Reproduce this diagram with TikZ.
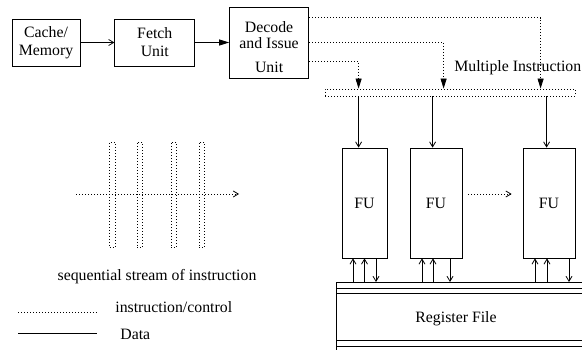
\documentclass[tikz,border=0pt]{standalone}
\usepackage{fontspec}
\setmainfont{Liberation Serif}
\usetikzlibrary{arrows.meta, positioning, calc}

\begin{document}
\begin{tikzpicture}[
      x=1pt, y=-1pt,
      node distance=34pt,
      line width=0.8pt,
      font=\fontsize{15.8pt}{18pt}\selectfont,
      blk/.style={draw, inner sep=0pt, align=center, minimum width=#1},
      ctl/.style={dash pattern=on 0.8pt off 2.2pt},
      opn/.style={-{Straight Barb[length=5pt,width=6pt]}},
      fil/.style={-{Triangle[length=10pt,width=6pt]}}
  ]
    \clip (0,0) rectangle (582,350);

    % front end
    \node[blk=68pt, minimum height=47pt] (cache) at (46,42.5) {Cache/\\Memory};
    \node[blk=80pt, minimum height=47pt, right=of cache] (fetch) {Fetch\\Unit};
    \node[blk=79pt, minimum height=71pt, right=of fetch] (dec)
      {\rule{0pt}{20pt}Decode\\[-2pt]and Issue\\[6pt]Unit};

    \draw[opn] (cache) -- (fetch);
    \draw[fil] (fetch) -- (dec);

    % instruction bus
    \node[draw, ctl, minimum width=250pt, minimum height=7pt, inner sep=0pt] (bus) at (450,92.5) {};
    \node[anchor=west, inner sep=0pt] (mi) at (454,68) {Multiple Instruction};

    \draw[ctl, fil] ($(dec.north east)+(0,11)$) -| ($(bus.north west)+(216,0)$);
    \draw[ctl, fil] (dec.east) -| ($(bus.north west)+(119,0)$);
    \draw[ctl, fil] ($(dec.south east)+(0,-17)$) -| ($(bus.north west)+(34,0)$);

    % functional units
    \node[blk=45pt, minimum height=110pt] (fu1) at (364.5,203) {FU};
    \node[blk=52pt, minimum height=110pt] (fu2) at (436,203) {FU};
    \node[blk=52pt, minimum height=110pt] (fu3) at (549,203) {FU};

    \foreach \f/\dx in {fu1/34, fu2/108, fu3/222} {
      \coordinate (b) at ($(bus.south west)+(\dx,0)$);
      \draw[opn] (b) -- (b |- \f.north);
    }
    \draw[ctl, opn] ($(fu2.east)+(6,-9)$) -- ($(fu3.west)+(-11,-9)$);

    % register file
    \node[draw, anchor=north west, minimum width=300pt, minimum height=72pt, inner sep=0pt] (reg) at (336,282) {};
    \node (rl) at ($(reg.west)+(120,0)$) {Register File};
    \foreach \d in {6,11.5,58,64}
      \draw ($(reg.north west)+(0,\d)$) -- +(300,0);

    \foreach \f/\dx in {fu1/-11.5, fu1/0, fu2/-14, fu2/-3, fu3/-14, fu3/-2} {
      \coordinate (p) at ($(\f.south)+(\dx,0)$);
      \draw[opn] (p |- reg.north) -- (p);
    }
    \foreach \f/\dx in {fu1/11.5, fu2/14, fu3/20} {
      \coordinate (p) at ($(\f.south)+(\dx,0)$);
      \draw[opn] (p) -- (p |- reg.north);
    }

    % sequential stream
    \foreach \i/\x in {1/112.5, 2/140, 3/174, 4/202}
      \node[draw, ctl, minimum width=5.5pt, minimum height=105pt, inner sep=0pt] (s\i) at (\x,194.5) {};
    \coordinate (sa) at (76,194);
    \coordinate (sb) at (239,194);
    \draw[ctl, opn] (sa) -- (sb);
    \node (seq) at (157,277) {sequential stream of instruction};

    % legend
    \coordinate (la) at (18,312);
    \coordinate (lb) at (97,312);
    \draw[ctl] (la) -- (lb);
    \node[anchor=west, inner sep=0pt] (lctl) at (115,307) {instruction/control};
    \coordinate (da) at (18,333);
    \coordinate (db) at (97,333);
    \draw (da) -- (db);
    \node[anchor=west, inner sep=0pt] (ldat) at (120,334) {Data};
  \end{tikzpicture}
\end{document}
